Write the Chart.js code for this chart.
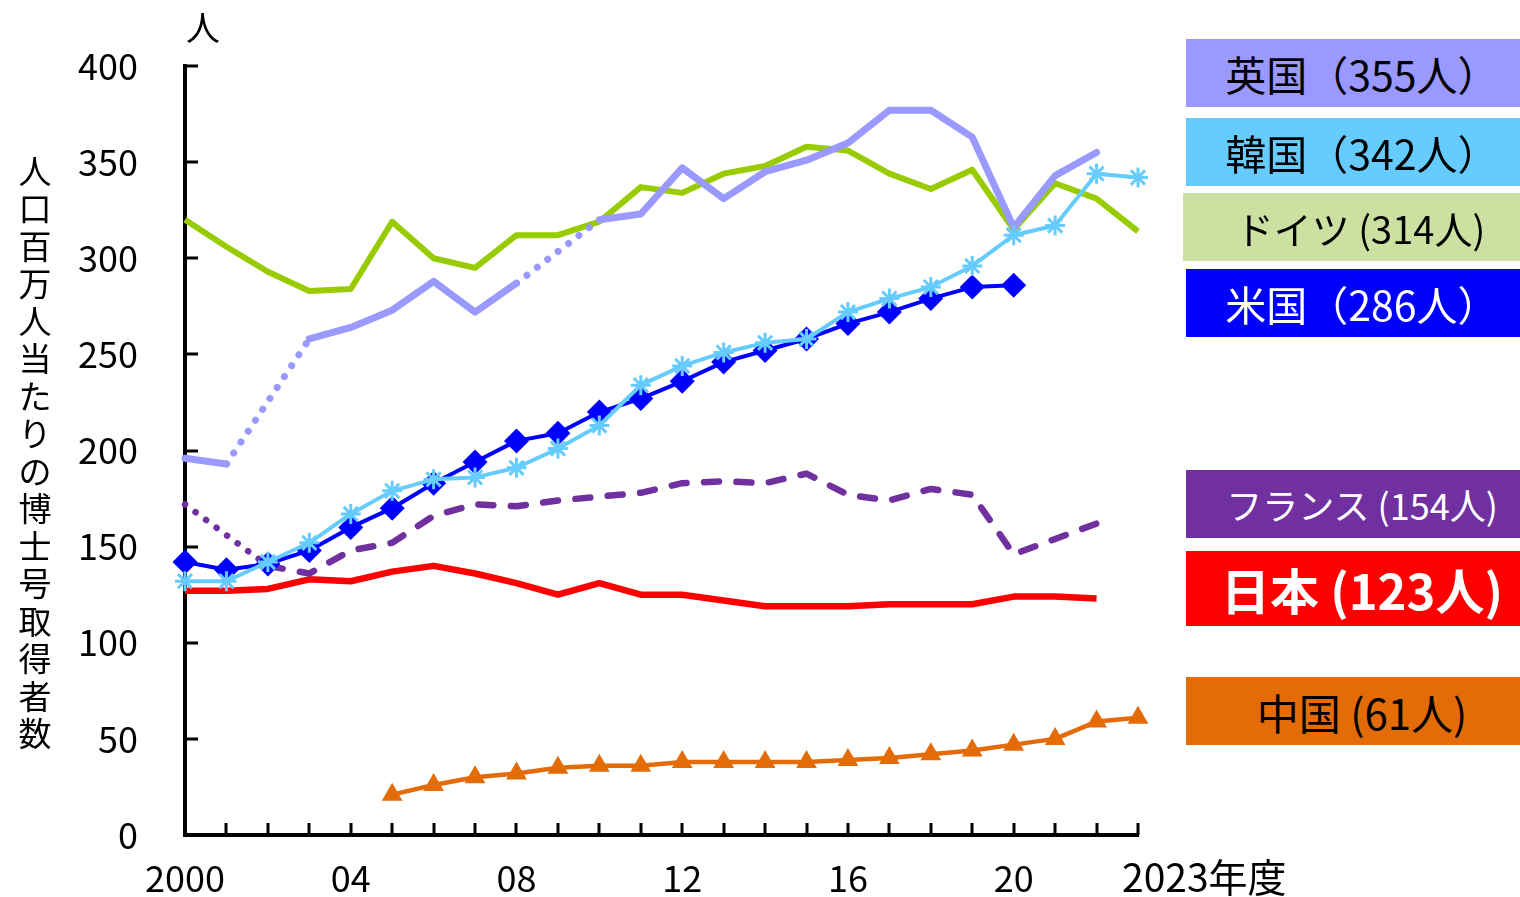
<!DOCTYPE html>
<html lang="ja">
<head>
<meta charset="utf-8">
<script src="https://cdn.jsdelivr.net/npm/chart.js@4.4.1/dist/chart.umd.min.js"></script>
<style>
  html, body { margin: 0; padding: 0; background: #fff; }
  #wrap { position: relative; width: 1520px; height: 897px; }
  #chart { position: absolute; left: 0; top: 0; }
  .tag {
    position: absolute; display: flex; align-items: center; justify-content: center;
    box-sizing: border-box; padding-left: 18px;
    font-family: "Noto Sans CJK JP", sans-serif; white-space: pre;
  }
</style>
</head>
<body>
<div id="wrap">
  <canvas id="chart" width="1520" height="897"></canvas>
</div>
<script>
// 人口百万人当たりの博士号取得者数（年度別）
const years = [2000, 2001, 2002, 2003, 2004, 2005, 2006, 2007, 2008, 2009, 2010, 2011,
               2012, 2013, 2014, 2015, 2016, 2017, 2018, 2019, 2020, 2021, 2022, 2023];

const uk      = [196, 193, null, 258, 264, 273, 288, 272, 287, null, 320, 323,
                 347, 331, 345, 351, 360, 377, 377, 363, 316, 343, 355, null];
const korea   = [132, 132, 142, 152, 167, 179, 185, 186, 191, 201, 213, 234,
                 244, 251, 256, 258, 272, 279, 285, 296, 312, 317, 344, 342];
const germany = [320, 306, 293, 283, 284, 319, 300, 295, 312, 312, 319, 337,
                 334, 344, 348, 358, 356, 344, 336, 346, 315, 339, 331, 314];
const usa     = [142, 138, 141, 148, 160, 170, 183, 194, 205, 209, 220, 227,
                 236, 246, 252, 258, 266, 272, 279, 285, 286, null, null, null];
const france  = [172, null, 140, 136, 148, 152, 166, 172, 171, 174, 176, 178,
                 183, 184, 183, 188, 177, 174, 180, 177, 146, 154, 162, null];
const japan   = [127, 127, 128, 133, 132, 137, 140, 136, 131, 125, 131, 125,
                 125, 122, 119, 119, 119, 120, 120, 120, 124, 124, 123, null];
const china   = [null, null, null, null, null, 21, 26, 30, 32, 35, 36, 36,
                 38, 38, 38, 38, 39, 40, 42, 44, 47, 50, 59, 61];

// x軸の目盛ラベル（2023は軸の右に「年度」付きで別に描く）
const xTickLabels = { 2000: '2000', 2004: '04', 2008: '08', 2012: '12', 2016: '16', 2020: '20' };
const lastYearLabel = '2023年度';
const yTitle = '人口百万人当たりの博士号取得者数';
const yUnit = '人';

// 右側の国名ラベル
const tagTexts  = ['英国（355人）', '韓国（342人）', 'ドイツ (314人)', '米国（286人）',
                   'フランス (154人)', '日本 (123人)', '中国 (61人)'];
const tagFills  = ['#9999FF', '#66CCFF', '#CCE1A1', '#0000FF', '#7030A0', '#FF0000', '#E36C09'];
const tagInk    = ['#000', '#000', '#000', '#fff', '#fff', '#fff', '#000'];
const tagBoxes  = [[1186, 39, 334, 68], [1186, 118, 334, 68], [1183, 193, 337, 68], [1186, 269, 334, 68],
                   [1186, 470, 334, 68], [1186, 551, 334, 75], [1186, 677, 334, 68]];
const tagSizes  = [41, 41, 38, 41, 36, 49, 42];

const wrap = document.getElementById('wrap');
tagTexts.forEach((t, i) => {
  const d = document.createElement('div');
  const [x, y, w, h] = tagBoxes[i];
  d.className = 'tag';
  d.textContent = t;
  Object.assign(d.style, { left: x + 'px', top: y + 'px', width: w + 'px', height: h + 'px',
                           background: tagFills[i], color: tagInk[i], fontSize: tagSizes[i] + 'px' });
  if (i === 5) d.style.fontWeight = 'bold';
  wrap.appendChild(d);
});

const FONT = '"Noto Sans CJK JP", sans-serif';
const gapDash = (ctx, dash) => (ctx.p0.skip || ctx.p1.skip) ? dash : undefined;

// 内向きの目盛線、縦書きの軸タイトル、単位
const axisDecor = {
  id: 'axisDecor',
  afterDraw(chart) {
    const { ctx, chartArea: a, scales: { x, y } } = chart;
    ctx.save();
    ctx.strokeStyle = '#000';
    ctx.lineWidth = 3;
    ctx.beginPath();
    for (let v = 50; v <= 400; v += 50) {
      const py = Math.round(y.getPixelForValue(v));
      ctx.moveTo(a.left, py); ctx.lineTo(a.left + 13, py);
    }
    years.slice(1).forEach(yr => {
      const px = Math.round(x.getPixelForValue(yr));
      ctx.moveTo(px, a.bottom); ctx.lineTo(px, a.bottom - 12);
    });
    ctx.stroke();

    ctx.fillStyle = '#000';
    ctx.textAlign = 'center';
    ctx.textBaseline = 'middle';
    ctx.font = '33px ' + FONT;
    [...yTitle].forEach((ch, i) => ctx.fillText(ch, 35, 171 + i * 37.5));
    ctx.font = '34px ' + FONT;
    ctx.fillText(yUnit, a.left + 18, 28);
    ctx.textAlign = 'left';
    ctx.font = '39px ' + FONT;
    ctx.fillText(lastYearLabel, x.getPixelForValue(2023) - 16, 877);
    ctx.restore();
  }
};

const line = (label, data, color, width, extra) => Object.assign({
  label, data, borderColor: color, backgroundColor: color, borderWidth: width,
  pointRadius: 0, tension: 0, clip: false, spanGaps: false,
  borderJoinStyle: 'round'
}, extra);

new Chart(document.getElementById('chart'), {
  type: 'line',
  data: {
    labels: years,
    datasets: [
      line('韓国', korea, '#66CCFF', 4, { pointStyle: 'star', pointRadius: 10, pointBorderWidth: 3 }),
      line('米国', usa, '#0000FF', 4, { pointStyle: 'rectRot', pointRadius: 12.5, pointBorderWidth: 0 }),
      line('英国', uk, '#9999FF', 7, {
        spanGaps: true, borderCapStyle: 'round',
        segment: { borderDash: ctx => gapDash(ctx, [0.1, 13]) }
      }),
      line('ドイツ', germany, '#99CC00', 6),
      line('中国', china, '#E36C09', 4.5, { pointStyle: 'triangle', pointRadius: 12, pointBorderWidth: 0 }),
      line('フランス', france, '#7030A0', 6.5, {
        spanGaps: true, borderCapStyle: 'round', borderDash: [15, 17.5],
        segment: { borderDash: ctx => gapDash(ctx, [0.1, 13]) }
      }),
      line('日本', japan, '#FF0000', 6.5)
    ].map(d => Object.assign(d, { data: d.data.map((v, i) => ({ x: years[i], y: v })) }))
  },
  options: {
    responsive: false,
    animation: false,
    layout: { padding: { top: 66, right: 382, left: 0, bottom: 0 } },
    plugins: { legend: { display: false }, tooltip: { enabled: false } },
    scales: {
      x: {
        type: 'linear', min: 2000, max: 2023,
        afterFit: s => { s.height = 62; s.paddingLeft = 0; s.paddingRight = 0; },
        grid: { display: false, drawTicks: false },
        border: { display: true, color: '#000', width: 4 },
        ticks: {
          stepSize: 1, autoSkip: false, maxRotation: 0, padding: 22,
          color: '#000', font: { family: FONT, size: 36 },
          callback: v => xTickLabels[v] || ''
        }
      },
      y: {
        min: 0, max: 400,
        afterFit: s => { s.width = 185; s.paddingTop = 0; s.paddingBottom = 0; },
        grid: { display: false, drawTicks: false },
        border: { display: true, color: '#000', width: 4 },
        ticks: { stepSize: 50, padding: 47, color: '#000', font: { family: FONT, size: 36 } }
      }
    }
  },
  plugins: [axisDecor]
});
</script>
</body>
</html>
